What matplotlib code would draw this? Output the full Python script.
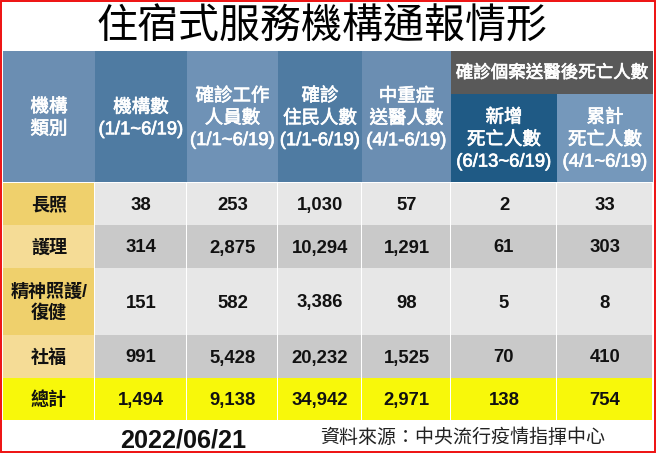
import matplotlib
matplotlib.use("Agg")
import matplotlib.pyplot as plt
import matplotlib.patheffects as pe
from matplotlib.patches import Rectangle

plt.rcParams['font.family'] = ['Liberation Sans', 'Noto Sans CJK TC', 'DejaVu Sans']

title = '住宿式服務機構通報情形'
date_label = '2022/06/21'
source = '資料來源：中央流行疫情指揮中心'
group_header = '確診個案送醫後死亡人數'

headers = ['機構\n類別', '機構數\n(1/1~6/19)', '確診工作\n人員數\n(1/1~6/19)',
           '確診\n住民人數\n(1/1-6/19)', '中重症\n送醫人數\n(4/1-6/19)',
           '新增\n死亡人數\n(6/13~6/19)', '累計\n死亡人數\n(4/1~6/19)']
categories = ['長照', '護理', '精神照護/\n復健', '社福', '總計']
institutions = ['38', '314', '151', '991', '1,494']
staff = ['253', '2,875', '582', '5,428', '9,138']
residents = ['1,030', '10,294', '3,386', '20,232', '34,942']
severe = ['57', '1,291', '98', '1,525', '2,971']
new_deaths = ['2', '61', '5', '70', '138']
total_deaths = ['33', '303', '8', '410', '754']
columns = [categories, institutions, staff, residents, severe, new_deaths, total_deaths]

# table grid in pixels
col_edges = [3, 95, 187, 278, 362, 451, 557, 653]
row_edges = [183, 225, 268, 335, 378, 420]
head_top, group_bottom = 51, 94

head_colors = ['#6b8eb2', '#4f7ba2', '#6f92b6', '#4f7ba2', '#6b8eb2', '#1f5a85', '#7598bb']
row_colors = ['#e7e7e7', '#c9c9c9', '#e7e7e7', '#c9c9c9', '#f8f80a']
cat_colors = ['#efd06c', '#f5dc96', '#efd06c', '#f5dc96', '#f8f80a']

fig = plt.figure(figsize=(6.56, 4.53), dpi=100)
ax = fig.add_axes([0, 0, 1, 1])
ax.set_xlim(0, 656)
ax.set_ylim(453, 0)
ax.axis('off')

thicker = [pe.withStroke(linewidth=0.5, foreground='white')]


def box(x0, x1, y0, y1, color, gap=1.2):
    ax.add_patch(Rectangle((x0, y0), x1 - x0 - gap, y1 - y0, fc=color, ec='none'))


# header cells
for i, txt in enumerate(headers):
    x0, x1 = col_edges[i], col_edges[i + 1]
    y0 = group_bottom if i >= 5 else head_top
    box(x0, x1, y0, row_edges[0] - 1, head_colors[i], gap=0)
    ax.text((x0 + x1) / 2, (y0 + row_edges[0]) / 2 + 1.5, txt, color='white', fontsize=13.3,
            ha='center', va='center', linespacing=1.37, weight='medium', path_effects=thicker)

box(col_edges[5], col_edges[7], head_top, group_bottom, '#595959', gap=0)
ax.text((col_edges[5] + col_edges[7]) / 2, (head_top + group_bottom) / 2, group_header,
        color='white', fontsize=12.6, ha='center', va='center', weight='medium', path_effects=thicker)

# body cells
for r in range(5):
    y0, y1 = row_edges[r], row_edges[r + 1]
    for c, col in enumerate(columns):
        x0, x1 = col_edges[c], col_edges[c + 1]
        box(x0, x1, y0, y1, cat_colors[r] if c == 0 else row_colors[r])
        ax.text((x0 + x1) / 2, (y0 + y1) / 2 + 1.5, col[r], color='#111111',
                fontsize=13.3 if c else 13, weight='bold',
                ha='center', va='center', linespacing=1.25)

ax.text(322, 27, title, fontsize=29.5, color='black', ha='center', va='center', weight='medium')
ax.text(183, 441, date_label, fontsize=18.2, weight='bold', color='#111111', ha='center', va='center')
ax.text(463, 438, source, fontsize=13.7, color='#222222', ha='center', va='center')

# red outer frame
ax.add_patch(Rectangle((0.8, 0.8), 654.4, 451.4, fc='none', ec='#ee1111', lw=1.4))

fig.savefig('out.png', dpi=100)
